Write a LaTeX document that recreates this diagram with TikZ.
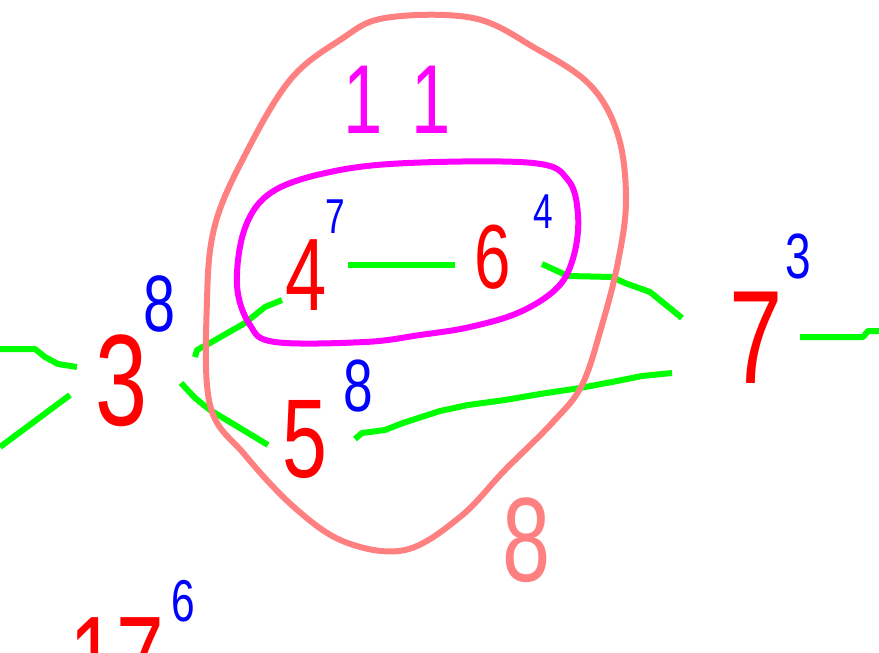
\documentclass[tikz,border=0pt]{standalone}
\usepackage{fontspec}
\setmainfont{Liberation Sans}
\newfontfamily\digitfont{Liberation Sans}[FakeStretch=0.72]
\definecolor{vertexred}{HTML}{FF0000}
\definecolor{degreeblue}{HTML}{0000FF}
\definecolor{bagmagenta}{HTML}{FF00FF}
\definecolor{bagsalmon}{HTML}{FF8080}
\definecolor{edgegreen}{HTML}{00FF00}
\tikzset{
  vertex/.style={
    text=vertexred,
    inner sep=0pt,
    font=\digitfont\fontsize{#1}{#1}\selectfont,
  },
  degree/.style={
    text=degreeblue,
    inner sep=0pt,
    font=\digitfont\fontsize{#1}{#1}\selectfont,
  },
  bag label/.style={
    inner sep=0pt,
    font=\digitfont\fontsize{#1}{#1}\selectfont,
  },
  green edge/.style={
    draw=edgegreen,
    line width=6pt,
    line join=round,
  },
  bag/.style={
    line width=6pt,
    line join=round,
  }
}

\begin{document}
\begin{tikzpicture}[x=1pt,y=-1pt]
\useasboundingbox (0,0) rectangle (879,653);
\clip (0,0) rectangle (879,653);

% vertices with their degrees
\node[vertex=130] (n3) at (122,381) {3};
\node[degree=80] (d3) at (160,304) {8};
\node[vertex=103] (n4) at (306,275) {4};
\node[degree=49] (d4) at (335,217) {7};
\node[vertex=91] (n6) at (493,257) {6};
\node[degree=49] (d6) at (543,212) {4};
\node[vertex=112] (n5) at (305,440) {5};
\node[degree=74] (d5) at (358,386) {8};
\node[vertex=133] (n7) at (756,338) {7};
\node[degree=64] (d7) at (798,256) {3};
\node[vertex=119] (n17) at (117,659) {17};
\node[degree=59] (d17) at (183,601) {6};

% bag sizes
\node[bag label=98, text=bagmagenta] (inner size) at (392,100)
  {\addfontfeatures{LetterSpace=35}11\kern-0.1em};
\node[bag label=120, text=bagsalmon] (outer size) at (527,540) {8};

% free ends
\coordinate (left a) at (0,349);
\coordinate (left b) at (0,447);
\coordinate (right a) at (879,331);

\draw[green edge] (left a) -- (35,349) -- (45,357) -- (58,364) -- (77,367);
\draw[green edge] (left b) -- (70,395);
\draw[green edge] (195,357) -- (197,350) -- (210,343) -- (245,323) --
  (265,307) -- (282,300);
\draw[green edge] (181,383) -- (195,398) -- (210,410) -- (230,422) --
  (268,445);
\draw[green edge] (348,265) -- (455,265);
\draw[green edge] (542,264) -- (568,276) -- (612,277) -- (625,283) --
  (650,292) -- (682,318);
\draw[green edge] (355,439) -- (362,433) -- (385,430) -- (403,423) --
  (440,411) -- (468,405) -- (505,400) -- (540,394) -- (580,388) --
  (612,382) -- (642,376) -- (672,373);
\draw[green edge] (800,337) -- (863,337) -- (868,331) -- (right a);

\draw[bag, bagmagenta] plot[smooth cycle, tension=0.6] coordinates {
  (408,163) (533,163) (568,180) (578,215) (574,255) (558,287) (520,312)
  (470,327) (420,335) (365,342) (275,342) (250,325) (237,285) (245,228)
  (272,192) (330,172)};

\draw[bag, bagsalmon] plot[smooth cycle, tension=0.6] coordinates {
  (385,18) (473,18) (535,48) (590,85) (618,135) (626,200) (618,262)
  (602,325) (582,385) (553,422) (505,470) (460,517) (405,550) (345,542)
  (295,508) (245,455) (210,405) (207,300) (215,225) (245,155) (290,80)
  (340,40)};

\end{tikzpicture}
\end{document}
